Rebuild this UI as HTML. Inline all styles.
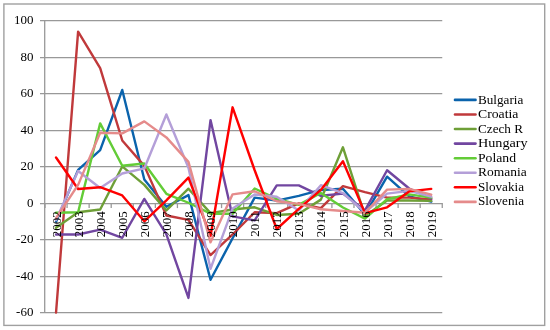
<!DOCTYPE html>
<html><head><meta charset="utf-8"><style>
html,body{margin:0;padding:0;background:#fff;}
body{width:550px;height:330px;overflow:hidden;position:relative;}
svg{position:absolute;left:0;top:0;will-change:transform;}
text{font-family:"Liberation Serif",serif;fill:#000;}
</style></head><body>
<svg width="550" height="330" viewBox="0 0 550 330">
<rect x="3.9" y="4.0" width="540.8" height="321.4" fill="#fff" stroke="#a0a0a0" stroke-width="1.4"/>
<line x1="40" y1="20.50" x2="442.26" y2="20.50" stroke="#999999" stroke-width="1.25"/>
<text transform="translate(33.4,24.00) scale(0.965,1)" font-size="13.45" text-anchor="end">100</text>
<line x1="40" y1="57.50" x2="442.26" y2="57.50" stroke="#999999" stroke-width="1.25"/>
<text transform="translate(33.4,61.00) scale(0.965,1)" font-size="13.45" text-anchor="end">80</text>
<line x1="40" y1="93.50" x2="442.26" y2="93.50" stroke="#999999" stroke-width="1.25"/>
<text transform="translate(33.4,97.00) scale(0.965,1)" font-size="13.45" text-anchor="end">60</text>
<line x1="40" y1="130.50" x2="442.26" y2="130.50" stroke="#999999" stroke-width="1.25"/>
<text transform="translate(33.4,134.00) scale(0.965,1)" font-size="13.45" text-anchor="end">40</text>
<line x1="40" y1="166.50" x2="442.26" y2="166.50" stroke="#999999" stroke-width="1.25"/>
<text transform="translate(33.4,170.00) scale(0.965,1)" font-size="13.45" text-anchor="end">20</text>
<line x1="40" y1="203.50" x2="442.26" y2="203.50" stroke="#999999" stroke-width="1.25"/>
<text transform="translate(33.4,207.00) scale(0.965,1)" font-size="13.45" text-anchor="end">0</text>
<line x1="40" y1="239.50" x2="442.26" y2="239.50" stroke="#999999" stroke-width="1.25"/>
<text transform="translate(33.4,243.00) scale(0.965,1)" font-size="13.45" text-anchor="end">-20</text>
<line x1="40" y1="276.50" x2="442.26" y2="276.50" stroke="#999999" stroke-width="1.25"/>
<text transform="translate(33.4,280.00) scale(0.965,1)" font-size="13.45" text-anchor="end">-40</text>
<line x1="40" y1="312.50" x2="442.26" y2="312.50" stroke="#999999" stroke-width="1.25"/>
<text transform="translate(33.4,316.00) scale(0.965,1)" font-size="13.45" text-anchor="end">-60</text>
<line x1="44.7" y1="19.90" x2="44.7" y2="313.10" stroke="#999999" stroke-width="1.3"/>
<line x1="45.00" y1="203.10" x2="45.00" y2="208.10" stroke="#999999" stroke-width="1.3"/>
<line x1="67.07" y1="203.10" x2="67.07" y2="208.10" stroke="#999999" stroke-width="1.3"/>
<line x1="89.14" y1="203.10" x2="89.14" y2="208.10" stroke="#999999" stroke-width="1.3"/>
<line x1="111.21" y1="203.10" x2="111.21" y2="208.10" stroke="#999999" stroke-width="1.3"/>
<line x1="133.28" y1="203.10" x2="133.28" y2="208.10" stroke="#999999" stroke-width="1.3"/>
<line x1="155.35" y1="203.10" x2="155.35" y2="208.10" stroke="#999999" stroke-width="1.3"/>
<line x1="177.42" y1="203.10" x2="177.42" y2="208.10" stroke="#999999" stroke-width="1.3"/>
<line x1="199.49" y1="203.10" x2="199.49" y2="208.10" stroke="#999999" stroke-width="1.3"/>
<line x1="221.56" y1="203.10" x2="221.56" y2="208.10" stroke="#999999" stroke-width="1.3"/>
<line x1="243.63" y1="203.10" x2="243.63" y2="208.10" stroke="#999999" stroke-width="1.3"/>
<line x1="265.70" y1="203.10" x2="265.70" y2="208.10" stroke="#999999" stroke-width="1.3"/>
<line x1="287.77" y1="203.10" x2="287.77" y2="208.10" stroke="#999999" stroke-width="1.3"/>
<line x1="309.84" y1="203.10" x2="309.84" y2="208.10" stroke="#999999" stroke-width="1.3"/>
<line x1="331.91" y1="203.10" x2="331.91" y2="208.10" stroke="#999999" stroke-width="1.3"/>
<line x1="353.98" y1="203.10" x2="353.98" y2="208.10" stroke="#999999" stroke-width="1.3"/>
<line x1="376.05" y1="203.10" x2="376.05" y2="208.10" stroke="#999999" stroke-width="1.3"/>
<line x1="398.12" y1="203.10" x2="398.12" y2="208.10" stroke="#999999" stroke-width="1.3"/>
<line x1="420.19" y1="203.10" x2="420.19" y2="208.10" stroke="#999999" stroke-width="1.3"/>
<line x1="442.26" y1="203.10" x2="442.26" y2="208.10" stroke="#999999" stroke-width="1.3"/>
<polyline points="56.03,221.71 78.11,169.90 100.17,150.19 122.25,89.99 144.31,179.57 166.38,206.75 188.46,195.07 210.53,279.72 232.59,238.31 254.66,197.63 276.74,200.55 298.81,195.80 320.88,189.96 342.94,188.69 365.01,214.59 387.08,176.65 409.16,196.35 431.23,201.64" fill="none" stroke="#0A63AC" stroke-width="2.4" stroke-linejoin="round" stroke-linecap="round"/>
<polyline points="56.03,312.56 78.11,31.61 100.17,68.09 122.25,140.52 144.31,165.88 166.38,215.51 188.46,219.88 210.53,255.10 232.59,234.48 254.66,212.22 276.74,213.13 298.81,203.46 320.88,208.21 342.94,186.13 365.01,192.15 387.08,197.63 409.16,197.63 431.23,199.45" fill="none" stroke="#C0393B" stroke-width="2.4" stroke-linejoin="round" stroke-linecap="round"/>
<polyline points="56.03,227.73 78.11,212.22 100.17,209.49 122.25,166.43 144.31,184.86 166.38,210.40 188.46,188.69 210.53,213.13 232.59,209.49 254.66,207.30 276.74,214.96 298.81,213.68 320.88,199.63 342.94,147.27 365.01,215.87 387.08,200.55 409.16,200.55 431.23,200.91" fill="none" stroke="#6E9F37" stroke-width="2.4" stroke-linejoin="round" stroke-linecap="round"/>
<polyline points="56.03,234.48 78.11,234.48 100.17,229.55 122.25,237.76 144.31,198.90 166.38,234.48 188.46,297.97 210.53,120.09 232.59,216.42 254.66,220.43 276.74,185.40 298.81,185.40 320.88,195.80 342.94,193.61 365.01,210.40 387.08,170.26 409.16,188.50 431.23,198.54" fill="none" stroke="#7146A0" stroke-width="2.4" stroke-linejoin="round" stroke-linecap="round"/>
<polyline points="56.03,212.77 78.11,212.22 100.17,123.37 122.25,165.70 144.31,163.51 166.38,193.80 188.46,202.74 210.53,213.68 232.59,213.68 254.66,188.50 276.74,198.72 298.81,204.92 320.88,192.88 342.94,207.48 365.01,218.61 387.08,199.09 409.16,194.34 431.23,197.63" fill="none" stroke="#63CC37" stroke-width="2.4" stroke-linejoin="round" stroke-linecap="round"/>
<polyline points="56.03,220.07 78.11,170.99 100.17,187.96 122.25,173.54 144.31,168.44 166.38,114.43 188.46,167.71 210.53,268.78 232.59,208.57 254.66,194.53 276.74,196.71 298.81,210.40 320.88,185.22 342.94,193.07 365.01,212.22 387.08,193.61 409.16,190.88 431.23,196.71" fill="none" stroke="#B49FD8" stroke-width="2.4" stroke-linejoin="round" stroke-linecap="round"/>
<polyline points="56.03,157.49 78.11,189.05 100.17,187.23 122.25,195.44 144.31,221.34 166.38,200.36 188.46,177.56 210.53,235.94 232.59,107.32 254.66,170.26 276.74,229.01 298.81,208.94 320.88,189.96 342.94,161.32 365.01,213.13 387.08,207.30 409.16,191.42 431.23,188.87" fill="none" stroke="#FF0000" stroke-width="2.4" stroke-linejoin="round" stroke-linecap="round"/>
<polyline points="56.03,218.24 78.11,184.86 100.17,132.68 122.25,133.41 144.31,121.37 166.38,137.42 188.46,161.87 210.53,242.32 232.59,194.34 254.66,191.24 276.74,201.28 298.81,203.83 320.88,209.30 342.94,210.94 365.01,212.77 387.08,189.60 409.16,188.87 431.23,194.71" fill="none" stroke="#E58B8B" stroke-width="2.4" stroke-linejoin="round" stroke-linecap="round"/>
<text x="0" y="0" font-size="13" text-anchor="end" transform="translate(60.63,211.20) rotate(-90)">2002</text>
<text x="0" y="0" font-size="13" text-anchor="end" transform="translate(82.70,211.20) rotate(-90)">2003</text>
<text x="0" y="0" font-size="13" text-anchor="end" transform="translate(104.77,211.20) rotate(-90)">2004</text>
<text x="0" y="0" font-size="13" text-anchor="end" transform="translate(126.84,211.20) rotate(-90)">2005</text>
<text x="0" y="0" font-size="13" text-anchor="end" transform="translate(148.91,211.20) rotate(-90)">2006</text>
<text x="0" y="0" font-size="13" text-anchor="end" transform="translate(170.98,211.20) rotate(-90)">2007</text>
<text x="0" y="0" font-size="13" text-anchor="end" transform="translate(193.06,211.20) rotate(-90)">2008</text>
<text x="0" y="0" font-size="13" text-anchor="end" transform="translate(215.12,211.20) rotate(-90)">2009</text>
<text x="0" y="0" font-size="13" text-anchor="end" transform="translate(237.19,211.20) rotate(-90)">2010</text>
<text x="0" y="0" font-size="13" text-anchor="end" transform="translate(259.26,211.20) rotate(-90)">2011</text>
<text x="0" y="0" font-size="13" text-anchor="end" transform="translate(281.34,211.20) rotate(-90)">2012</text>
<text x="0" y="0" font-size="13" text-anchor="end" transform="translate(303.41,211.20) rotate(-90)">2013</text>
<text x="0" y="0" font-size="13" text-anchor="end" transform="translate(325.48,211.20) rotate(-90)">2014</text>
<text x="0" y="0" font-size="13" text-anchor="end" transform="translate(347.55,211.20) rotate(-90)">2015</text>
<text x="0" y="0" font-size="13" text-anchor="end" transform="translate(369.62,211.20) rotate(-90)">2016</text>
<text x="0" y="0" font-size="13" text-anchor="end" transform="translate(391.69,211.20) rotate(-90)">2017</text>
<text x="0" y="0" font-size="13" text-anchor="end" transform="translate(413.76,211.20) rotate(-90)">2018</text>
<text x="0" y="0" font-size="13" text-anchor="end" transform="translate(435.83,211.20) rotate(-90)">2019</text>
<line x1="455" y1="99.90" x2="475.5" y2="99.90" stroke="#0A63AC" stroke-width="2.6" stroke-linecap="round"/>
<text transform="translate(478,103.50) scale(0.965,1)" font-size="13.45" textLength="47.00" lengthAdjust="spacingAndGlyphs">Bulgaria</text>
<line x1="455" y1="114.47" x2="475.5" y2="114.47" stroke="#C0393B" stroke-width="2.6" stroke-linecap="round"/>
<text transform="translate(478,118.07) scale(0.965,1)" font-size="13.45" textLength="41.84" lengthAdjust="spacingAndGlyphs">Croatia</text>
<line x1="455" y1="129.04" x2="475.5" y2="129.04" stroke="#6E9F37" stroke-width="2.6" stroke-linecap="round"/>
<text transform="translate(478,132.64) scale(0.965,1)" font-size="13.45" textLength="46.64" lengthAdjust="spacingAndGlyphs">Czech R</text>
<line x1="455" y1="143.61" x2="475.5" y2="143.61" stroke="#7146A0" stroke-width="2.6" stroke-linecap="round"/>
<text transform="translate(478,147.21) scale(0.965,1)" font-size="13.45" textLength="51.48" lengthAdjust="spacingAndGlyphs">Hungary</text>
<line x1="455" y1="158.18" x2="475.5" y2="158.18" stroke="#63CC37" stroke-width="2.6" stroke-linecap="round"/>
<text transform="translate(478,161.78) scale(0.965,1)" font-size="13.45" textLength="39.41" lengthAdjust="spacingAndGlyphs">Poland</text>
<line x1="455" y1="172.75" x2="475.5" y2="172.75" stroke="#B49FD8" stroke-width="2.6" stroke-linecap="round"/>
<text transform="translate(478,176.35) scale(0.965,1)" font-size="13.45" textLength="50.38" lengthAdjust="spacingAndGlyphs">Romania</text>
<line x1="455" y1="187.32" x2="475.5" y2="187.32" stroke="#FF0000" stroke-width="2.6" stroke-linecap="round"/>
<text transform="translate(478,190.92) scale(0.965,1)" font-size="13.45" textLength="47.65" lengthAdjust="spacingAndGlyphs">Slovakia</text>
<line x1="455" y1="201.89" x2="475.5" y2="201.89" stroke="#E58B8B" stroke-width="2.6" stroke-linecap="round"/>
<text transform="translate(478,205.49) scale(0.965,1)" font-size="13.45" textLength="47.65" lengthAdjust="spacingAndGlyphs">Slovenia</text>
</svg>
</body></html>
